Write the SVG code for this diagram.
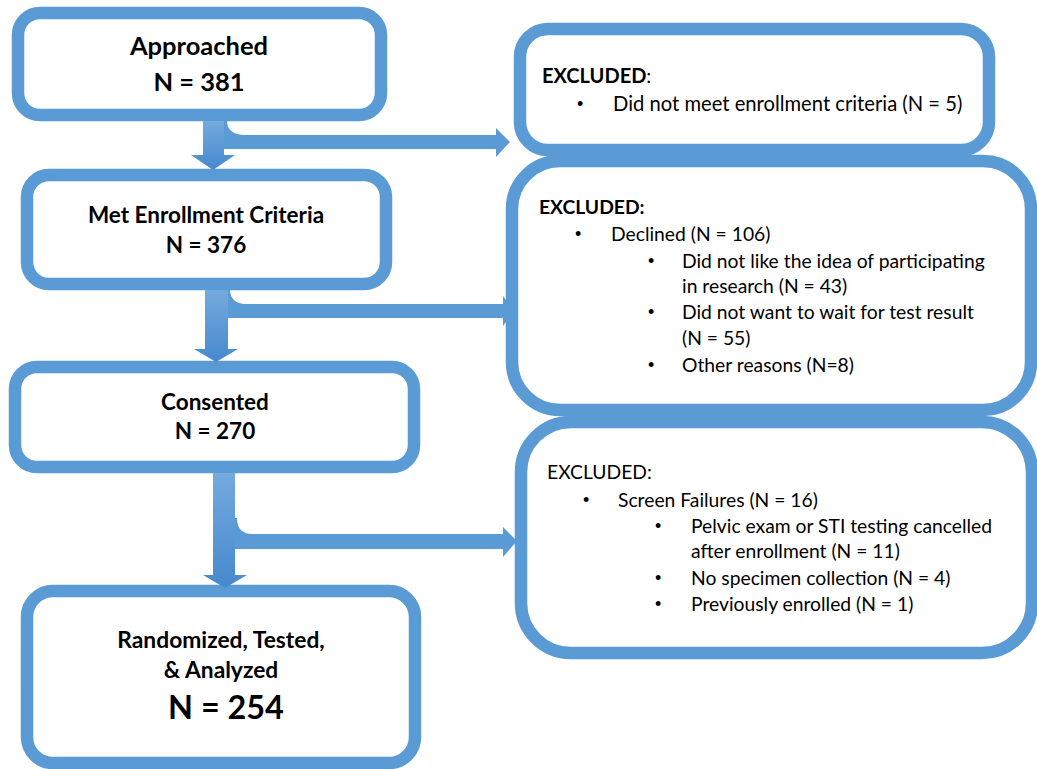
<svg xmlns="http://www.w3.org/2000/svg" width="1037" height="769" viewBox="0 0 1037 769">
<defs>
<linearGradient id="gdown" x1="0" y1="0" x2="0" y2="1">
<stop offset="0" stop-color="#74aade"/>
<stop offset="1" stop-color="#4689cd"/>
</linearGradient>
<style>
.box{fill:#fff;stroke:#5b9bd5;stroke-width:12.5}
.t{font-family:Lato,"Open Sans",sans-serif;fill:#000}
.b{font-weight:bold;text-anchor:middle}
.s{font-size:19.3px}
.bullet{font-family:"Liberation Sans",sans-serif;font-size:18px}
.down{fill:url(#gdown)}
.branch{fill:#5b9bd5}
</style>
</defs>
<rect width="1037" height="769" fill="#fff"/>
<g id="n1">
<rect class="box" x="18" y="13" width="363" height="102" rx="22"/>
<text class="t b" x="199" y="55" font-size="25.5">Approached</text>
<text class="t b" x="199" y="91" font-size="25.5">N = 381</text>
</g>
<g id="n2">
<rect class="box" x="27" y="175" width="359" height="109" rx="22"/>
<text class="t b" x="206" y="223" font-size="22.5">Met Enrollment Criteria</text>
<text class="t b" x="206" y="253" font-size="22.5">N = 376</text>
</g>
<g id="n3">
<rect class="box" x="15" y="367" width="399" height="100" rx="22"/>
<text class="t b" x="215" y="410" font-size="22.5">Consented</text>
<text class="t b" x="215" y="439" font-size="22.5">N = 270</text>
</g>
<g id="n4">
<rect class="box" x="27" y="591" width="388" height="172" rx="26"/>
<text class="t b" x="221" y="648" font-size="22.8">Randomized, Tested,</text>
<text class="t b" x="221" y="678" font-size="22.8">&amp; Analyzed</text>
<text class="t b" x="226" y="719" font-size="32.4">N = 254</text>
</g>
<g id="n5">
<rect class="box" x="520" y="29" width="469" height="121" rx="28"/>
<text class="t" x="542" y="83" font-size="20"><tspan font-weight="bold">EXCLUDED</tspan>:</text>
<text class="t bullet" x="577" y="110">•</text>
<text class="t" x="613" y="111" font-size="20.2">Did not meet enrollment criteria (N = 5)</text>
</g>
<g id="n6">
<rect class="box" x="512" y="161" width="519" height="249" rx="48"/>
<text class="t s" x="539" y="214" font-weight="bold">EXCLUDED:</text>
<text class="t bullet" x="575" y="240">•</text>
<text class="t s" x="611" y="241">Declined (N = 106)</text>
<text class="t bullet" x="648" y="267">•</text>
<text class="t s" x="682" y="268">Did not like the idea of participating</text>
<text class="t s" x="682" y="293">in research (N = 43)</text>
<text class="t bullet" x="648" y="318">•</text>
<text class="t s" x="682" y="319">Did not want to wait for test result</text>
<text class="t s" x="682" y="345">(N = 55)</text>
<text class="t bullet" x="648" y="371">•</text>
<text class="t s" x="682" y="372">Other reasons (N=8)</text>
</g>
<g id="n7">
<rect class="box" x="521" y="422" width="511" height="231" rx="50"/>
<text class="t s" x="547" y="479">EXCLUDED:</text>
<text class="t bullet" x="583" y="506">•</text>
<text class="t s" x="618" y="507">Screen Failures (N = 16)</text>
<text class="t bullet" x="655" y="532">•</text>
<text class="t s" x="691" y="533">Pelvic exam or STI testing cancelled</text>
<text class="t s" x="691" y="558">after enrollment (N = 11)</text>
<text class="t bullet" x="655" y="584">•</text>
<text class="t s" x="691" y="585">No specimen collection (N = 4)</text>
<text class="t bullet" x="655" y="610">•</text>
<text class="t s" x="691" y="611">Previously enrolled (N = 1)</text>
</g>
<g id="connectors">
<path class="branch" d="M224,121 L227,121 C227,131 235,135 245,135 L496,135 L496,128 L510,142 L496,157 L496,149 L224,149 Z"/>
<path class="down" d="M203,121 L224,121 L224,155 L235,155 L213,170 L191,155 L203,155 Z"/>
<path class="branch" d="M228,290 L230,290 C230,299 237,304 245,304 L503,304 L503,296 L514,311 L503,326 L503,318 L228,318 Z"/>
<path class="down" d="M205,290 L228,290 L228,349 L238,349 L216,362 L194,349 L205,349 Z"/>
<path class="branch" d="M235,518 L237,518 C237,529 243,534 252,534 L503,534 L503,527 L517,541 L503,557 L503,549 L235,549 Z"/>
<path class="down" d="M213,473 L235,473 L235,575 L247,575 L225,588 L203,575 L213,575 Z"/>
</g>
</svg>
